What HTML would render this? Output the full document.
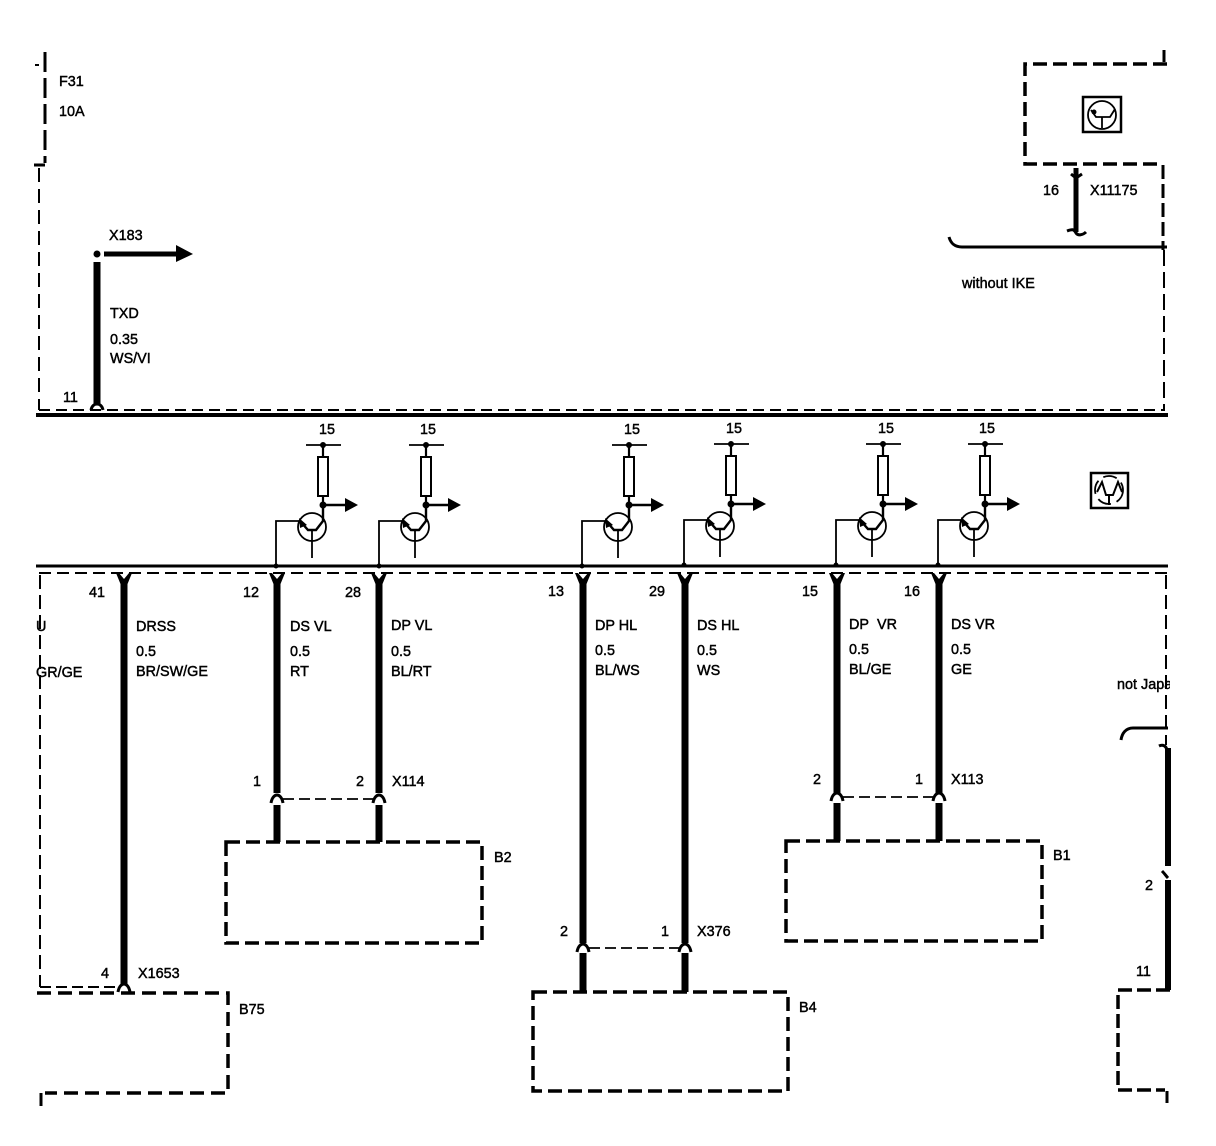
<!DOCTYPE html>
<html>
<head>
<meta charset="utf-8">
<style>
html,body{margin:0;padding:0;background:#fff;width:1216px;height:1146px;overflow:hidden}
svg{display:block}
text{font-family:"Liberation Sans",sans-serif;font-size:14.4px;fill:#000;stroke:#000;stroke-width:.45}
.k{stroke:#000;fill:none}
.t{stroke:#000;fill:none;stroke-width:2;stroke-dasharray:14 7}
.w{stroke:#000;fill:none;stroke-width:7}
.j{stroke:#000;fill:none;stroke-width:3}
</style>
</head>
<body>
<svg width="1216" height="1146" viewBox="0 0 1216 1146" xmlns="http://www.w3.org/2000/svg">
<defs>
<g id="q">
<path class="k" stroke-width="1.8" d="M0 565V521H23"/>
<circle cx="0" cy="566" r="2.5"/>
<circle class="k" stroke-width="1.8" cx="36" cy="527" r="14"/>
<path class="k" stroke-width="2.4" d="M24 521L32 530H40L47 521V505"/>
<path class="k" stroke-width="1.8" d="M36 530V558"/>
<path d="M23 518l8 7-7 3z"/>
<circle cx="47" cy="505" r="3.5"/>
<path class="k" stroke-width="2.4" d="M47 505H70"/>
<path d="M69 498L82 505L69 512z"/>
<rect class="k" stroke-width="2" x="42" y="457" width="10" height="39" fill="#fff"/>
<path class="k" stroke-width="2.2" d="M47 496V505M47 445V457"/>
<circle cx="47" cy="445" r="3"/>
<path class="k" stroke-width="1.8" d="M30 445H65"/>
</g>
<path id="cap" class="j" d="M-6 6C-5 0 -2 -2 0 -2C2 -2 5 0 6 6"/>
<path id="y" d="M-8 573H-5L0 579L5 573H8L3.5 584H-3.5Z"/>
</defs>

<!-- top left -->
<path class="k" stroke-width="3" stroke-dasharray="20 6" d="M45 52V163"/>
<path class="k" stroke-width="3" d="M34 165H45"/>
<path class="k" stroke-width="2" d="M35 65H39"/>
<path class="t" d="M39 168V410" stroke-dasharray="18 6"/>
<path class="k" stroke-width="2" d="M39 410H1165" stroke-dasharray="11 6"/>
<path class="k" stroke-width="4" d="M36 415H1168"/>
<text x="59" y="86">F31</text>
<text x="59" y="116">10A</text>
<text x="109" y="240">X183</text>
<circle cx="97" cy="254" r="3.5"/>
<path class="k" stroke-width="5" d="M104 254H178"/>
<path d="M176 245L193 254L176 262z"/>
<path class="w" d="M97 262V405"/>
<path class="j" d="M91 410C92 405 95 404 97 404C99 404 102 405 103 410"/>
<text x="110" y="318">TXD</text>
<text x="110" y="344">0.35</text>
<text x="110" y="363">WS/VI</text>
<text x="63" y="402">11</text>

<!-- top right -->
<path class="k" stroke-width="3.5" stroke-dasharray="14 6" d="M1167 64H1025V164H1163"/>
<path class="k" stroke-width="3" d="M1164 50V62"/>
<rect class="k" stroke-width="2.5" x="1083" y="97" width="38" height="35"/>
<circle class="k" stroke-width="1.8" cx="1102" cy="115" r="14"/>
<path class="k" stroke-width="1.8" d="M1091 110L1096 117H1110L1115 109M1102 117V128"/>
<circle cx="1094" cy="112" r="2.5"/>
<path class="k" stroke-width="5" d="M1076 168V232"/>
<path class="k" stroke-width="3" d="M1071 174L1076 178L1082 174M1067 231C1072 229 1074 229 1076 233C1078 236 1083 235 1086 232"/>
<text x="1043" y="195">16</text>
<text x="1090" y="195">X11175</text>
<path class="k" stroke-width="3" d="M949 237C951 244 955 247 962 247H1167"/>
<text x="962" y="288">without IKE</text>
<path class="k" stroke-width="3" stroke-dasharray="14 5" d="M1163 165V250"/>
<path class="k" stroke-width="2" stroke-dasharray="16 6" d="M1164 250V410"/>

<!-- bus 2 -->
<path class="k" stroke-width="3" d="M36 566H1168"/>
<path class="k" stroke-width="2" stroke-dasharray="12 6" d="M39 573H1168"/>
<use href="#q" x="276"/>
<use href="#q" x="379"/>
<use href="#q" x="582"/>
<use href="#q" x="684" y="-1"/>
<use href="#q" x="836" y="-1"/>
<use href="#q" x="938" y="-1"/>
<text x="319" y="434">15</text>
<text x="420" y="434">15</text>
<text x="624" y="434">15</text>
<text x="726" y="433">15</text>
<text x="878" y="433">15</text>
<text x="979" y="433">15</text>
<rect class="k" stroke-width="2.5" x="1091" y="473" width="37" height="35"/>
<circle class="k" stroke-width="1.8" stroke-dasharray="14 6" cx="1109" cy="490" r="14"/>
<path class="k" stroke-width="2" d="M1097 492L1102 482L1106 495H1113L1118 482L1122 492M1109 495V505"/>

<!-- wires -->
<path class="w" d="M124 580V984"/>
<path class="w" d="M277 580V793M277 805V842"/>
<path class="w" d="M379 580V793M379 805V842"/>
<path class="w" d="M583 580V943M583 953V992"/>
<path class="w" d="M685 580V943M685 953V992"/>
<path class="w" d="M837 580V793M837 803V841"/>
<path class="w" d="M939 580V793M939 803V841"/>
<use href="#y" x="124"/>
<use href="#y" x="277"/>
<use href="#y" x="379"/>
<use href="#y" x="583"/>
<use href="#y" x="685"/>
<use href="#y" x="837"/>
<use href="#y" x="939"/>
<use href="#cap" x="277" y="797"/>
<use href="#cap" x="379" y="797"/>
<use href="#cap" x="583" y="946"/>
<use href="#cap" x="685" y="946"/>
<use href="#cap" x="837" y="795"/>
<use href="#cap" x="939" y="795"/>
<use href="#cap" x="124" y="986"/>
<path class="k" stroke-width="1.8" stroke-dasharray="11 5" d="M283 799H373M589 948H679M843 797H933"/>

<!-- bottom left -->
<path class="k" stroke-width="2" stroke-dasharray="14 6" d="M40 575V987"/>
<path class="k" stroke-width="2" stroke-dasharray="11 5" d="M40 987H118"/>
<path class="k" stroke-width="3.5" stroke-dasharray="14 7" d="M37 993H228V1093H45"/>
<path class="k" stroke-width="3" d="M41 1093V1106"/>

<!-- boxes -->
<path class="k" stroke-width="3.5" stroke-dasharray="14 6" d="M226 842H482V943H226Z"/>
<path class="k" stroke-width="3.5" stroke-dasharray="14 6" d="M786 841H1042V941H786Z"/>
<path class="k" stroke-width="3.5" stroke-dasharray="14 6" d="M533 992H788V1091H533Z"/>
<text x="494" y="862">B2</text>
<text x="1053" y="860">B1</text>
<text x="799" y="1012">B4</text>
<text x="239" y="1014">B75</text>

<!-- right -->
<path class="k" stroke-width="2" stroke-dasharray="14 6" d="M1166 575V745"/>
<text x="1117" y="689">not Japan</text>
<rect x="1170" y="675" width="46" height="20" fill="#fff"/>
<path class="k" stroke-width="3" d="M1121 740C1122 733 1126 728 1133 728H1168"/>
<path class="k" stroke-width="6" d="M1168 748V866M1168 880V990"/>
<path class="k" stroke-width="3" d="M1159 746C1163 744 1166 746 1167 750M1162 871C1165 874 1166 876 1168 878"/>
<text x="1145" y="890">2</text>
<text x="1136" y="976">11</text>
<path class="k" stroke-width="3.5" stroke-dasharray="14 5" d="M1170 990H1118V1090H1165"/>
<path class="k" stroke-width="3" d="M1167 1091V1103"/>

<!-- pin numbers -->
<text x="89" y="597">41</text>
<text x="243" y="597">12</text>
<text x="345" y="597">28</text>
<text x="548" y="596">13</text>
<text x="649" y="596">29</text>
<text x="802" y="596">15</text>
<text x="904" y="596">16</text>

<!-- wire labels -->
<text x="36" y="631">U</text>
<text x="36" y="677">GR/GE</text>
<text x="136" y="631">DRSS</text><text x="136" y="656">0.5</text><text x="136" y="676">BR/SW/GE</text>
<text x="290" y="631">DS VL</text><text x="290" y="656">0.5</text><text x="290" y="676">RT</text>
<text x="391" y="630">DP VL</text><text x="391" y="656">0.5</text><text x="391" y="676">BL/RT</text>
<text x="595" y="630">DP HL</text><text x="595" y="655">0.5</text><text x="595" y="675">BL/WS</text>
<text x="697" y="630">DS HL</text><text x="697" y="655">0.5</text><text x="697" y="675">WS</text>
<text x="849" y="629">DP&#160;&#160;VR</text><text x="849" y="654">0.5</text><text x="849" y="674">BL/GE</text>
<text x="951" y="629">DS VR</text><text x="951" y="654">0.5</text><text x="951" y="674">GE</text>

<!-- connector labels -->
<text x="253" y="786">1</text>
<text x="356" y="786">2</text>
<text x="392" y="786">X114</text>
<text x="813" y="784">2</text>
<text x="915" y="784">1</text>
<text x="951" y="784">X113</text>
<text x="560" y="936">2</text>
<text x="661" y="936">1</text>
<text x="697" y="936">X376</text>
<text x="101" y="978">4</text>
<text x="138" y="978">X1653</text>
</svg>
</body>
</html>
